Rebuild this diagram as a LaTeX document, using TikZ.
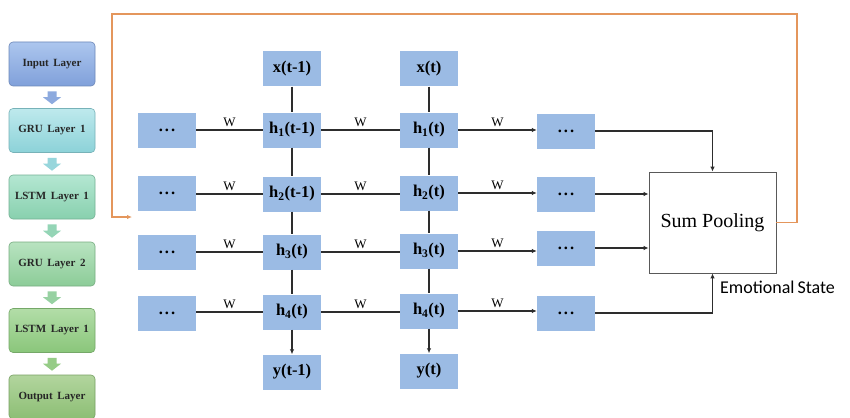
\documentclass[tikz,border=0pt]{standalone}
\usepackage{fontspec}
\setmainfont{Liberation Serif}
\newfontfamily\labelsans{Carlito}
\usetikzlibrary{arrows.meta,calc}

\definecolor{cellblue}{RGB}{155,187,228}
\definecolor{wire}{RGB}{45,45,45}
\definecolor{loopline}{RGB}{228,150,92}
\definecolor{inTop}{RGB}{172,198,238}\definecolor{inBot}{RGB}{128,160,218}
\definecolor{gaTop}{RGB}{190,233,237}\definecolor{gaBot}{RGB}{140,210,216}
\definecolor{laTop}{RGB}{180,231,210}\definecolor{laBot}{RGB}{136,208,174}
\definecolor{gbTop}{RGB}{184,227,192}\definecolor{gbBot}{RGB}{140,204,152}
\definecolor{lbTop}{RGB}{178,221,168}\definecolor{lbBot}{RGB}{138,198,122}
\definecolor{otTop}{RGB}{178,213,158}\definecolor{otBot}{RGB}{140,190,116}

\tikzset{
  layerbox/.style n args={2}{rounded corners=4pt, minimum width=86pt,
    minimum height=44pt, inner sep=0pt, top color=#1, bottom color=#2,
    draw=#2!85!black, line width=0.6pt, text=black!85,
    font=\bfseries\fontsize{11}{13}\selectfont},
  cell/.style={fill=cellblue, minimum width=58pt, minimum height=35pt,
    inner sep=0pt, font=\bfseries\fontsize{16.5}{18}\selectfont},
  link/.style={draw=wire, line width=1.2pt},
  tip/.style={-{Latex[length=5pt,width=4.5pt]}},
  wlab/.style={above=2pt, inner sep=1pt, font=\fontsize{13}{14}\selectfont},
}

% fat downward arrow between two stacked layer boxes
\newcommand\layerarrow[3]{%
  \fill[#3] let \p1=(#1.south), \p2=(#2.north) in
    (\x1-4.5pt,\y1-5pt) -- (\x1+4.5pt,\y1-5pt) -- (\x1+4.5pt,\y2+11pt)
    -- (\x1+9pt,\y2+11pt) -- (\x1,\y2+4pt) -- (\x1-9pt,\y2+11pt)
    -- (\x1-4.5pt,\y2+11pt) -- cycle;}

\newcommand\dotsbox{.\hspace{2pt}.\hspace{2pt}.}

\begin{document}
\begin{tikzpicture}[x=1pt,y=-1pt]
\clip (0,0) rectangle (850,417);
\fill[white] (0,0) rectangle (850,417);

% layer stack
\node[layerbox={inTop}{inBot}] (in)   at (52,64)    {Input\, Layer};
\node[layerbox={gaTop}{gaBot}] (gru1) at (52,130.5) {GRU\, Layer\, 1};
\node[layerbox={laTop}{laBot}] (lst1) at (52,197)   {LSTM\, Layer\, 1};
\node[layerbox={gbTop}{gbBot}] (gru2) at (52,264)   {GRU\, Layer\, 2};
\node[layerbox={lbTop}{lbBot}] (lst2) at (52,330.5) {LSTM\, Layer\, 1};
\node[layerbox={otTop}{otBot}] (out)  at (52,397)   {Output\, Layer};
\layerarrow{in}{gru1}{inBot!90!white}
\layerarrow{gru1}{lst1}{gaBot!90!white}
\layerarrow{lst1}{gru2}{laBot!90!white}
\layerarrow{gru2}{lst2}{gbBot!90!white}
\layerarrow{lst2}{out}{lbBot!90!white}

% recurrent grid
\node[cell] (x1) at (292,69)  {x(t-1)};
\node[cell] (x2) at (429,69)  {x(t)};
\node[cell] (y1) at (292,372) {y(t-1)};
\node[cell] (y2) at (429,371) {y(t)};

\node[cell] (l1) at (167,130) {\dotsbox};
\node[cell] (l2) at (167,193) {\dotsbox};
\node[cell] (l3) at (167,252) {\dotsbox};
\node[cell] (l4) at (167,313) {\dotsbox};

\node[cell] (a1) at (292,130) {h\textsubscript{1}(t-1)};
\node[cell] (a2) at (292,194) {h\textsubscript{2}(t-1)};
\node[cell] (a3) at (292,252) {h\textsubscript{3}(t)};
\node[cell] (a4) at (292,312) {h\textsubscript{4}(t)};

\node[cell] (b1) at (429,130) {h\textsubscript{1}(t)};
\node[cell] (b2) at (429,193) {h\textsubscript{2}(t)};
\node[cell] (b3) at (429,251) {h\textsubscript{3}(t)};
\node[cell] (b4) at (429,311) {h\textsubscript{4}(t)};

\node[cell] (r1) at (566,131) {\dotsbox};
\node[cell] (r2) at (566,194) {\dotsbox};
\node[cell] (r3) at (566,248) {\dotsbox};
\node[cell] (r4) at (566,313) {\dotsbox};

\node[draw=black!65, line width=0.8pt, fill=white, minimum width=127pt,
      minimum height=101pt, inner sep=0pt,
      font=\fontsize{20}{24}\selectfont] (sum) at (712.5,222.5) {Sum Pooling};
\node[anchor=west, inner sep=0pt, font=\labelsans\fontsize{18}{20}\selectfont]
      (emo) at (720,287) {Emotional\hspace{3pt}State};

% vertical links
\draw[link] (x1) -- (a1) -- (a2) -- (a3) -- (a4);
\draw[link] (x2) -- (b1) -- (b2) -- (b3) -- (b4);
\draw[link,tip] (a4) -- (y1);
\draw[link,tip] (b4) -- (y2);

% horizontal links
\foreach \i in {1,2,3,4}{
  \draw[link] (l\i.east |- a\i.west) -- node[wlab]{W} (a\i.west);
  \draw[link] (a\i.east) -- node[wlab]{W} (a\i.east -| b\i.west);
  \draw[link,tip] (b\i.east) -- node[wlab]{W} (b\i.east -| r\i.west);
}

% into the pooling block
\draw[link,tip] (r1.east) -| (sum.north);
\draw[link,tip] (r2.east) -- (r2.east -| sum.west);
\draw[link,tip] (r3.east) -- (r3.east -| sum.west);
\draw[link,tip] (r4.east) -| (sum.south);

% feedback loop
\coordinate (lr) at (797,14);
\coordinate (lt) at (112,14);
\coordinate (lend) at (132,217);
\draw[loopline, line width=1.4pt, -{Latex[length=5pt,width=4.5pt]}]
  (sum.east) -| (lr) -- (lt) |- (lend);
\end{tikzpicture}
\end{document}
